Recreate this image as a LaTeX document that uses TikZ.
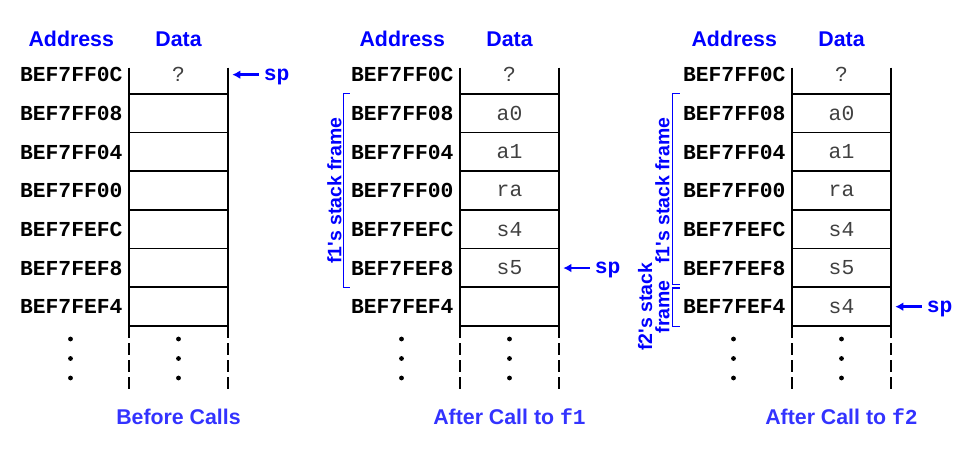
\documentclass[tikz,border=0pt]{standalone}
\usepackage{fontspec}
\setmainfont{Liberation Sans}
\setmonofont{Liberation Mono}
\usepackage{tikz}
\usetikzlibrary{arrows.meta,positioning,calc}
\definecolor{spblue}{RGB}{0,0,255}
\definecolor{capblue}{RGB}{51,51,255}
\definecolor{cellgray}{RGB}{64,64,64}
\tikzstyle{cell} = [rectangle, minimum width=74.25pt, minimum height=29pt, inner sep=0pt, text=cellgray, font=\fontsize{16}{18}\selectfont\ttfamily]
\tikzstyle{addr} = [inner sep=0pt, font=\fontsize{16}{18}\selectfont\ttfamily\bfseries]
\tikzstyle{header} = [inner sep=0pt, text=spblue, font=\fontsize{16}{18}\selectfont\bfseries]
\tikzstyle{caption} = [inner sep=0pt, text=capblue, font=\fontsize{16}{18}\selectfont\bfseries]
\tikzstyle{framelbl} = [inner sep=0pt, rotate=90, anchor=south, align=center, text=spblue, font=\fontsize{14.6}{13}\selectfont\bfseries]
\tikzstyle{splabel} = [inner sep=0pt, text height=12pt, text depth=3.5pt, text=spblue, font=\fontsize{16}{18}\selectfont\ttfamily\bfseries]
\tikzstyle{stackline} = [line width=1.2pt]
\tikzstyle{brace} = [line width=0.9pt, color=spblue]
\tikzstyle{sparrow} = [line width=2pt, -{Latex[length=6pt,width=6.5pt]}, color=spblue]

\begin{document}
\begin{tikzpicture}[x=0.75pt,y=-0.75pt]
\useasboundingbox (0,0) rectangle (963,452);

% Three stack snapshots
\foreach \p/\dx/\capt/\va/\vb/\vc/\vd/\ve/\vf/\vg in {
  1/0/{Before Calls}/?/{}/{}/{}/{}/{}/{},
  2/331/{After Call to {\ttfamily f1}}/?/a0/a1/ra/s4/s5/{},
  3/663/{After Call to {\ttfamily f2}}/?/a0/a1/ra/s4/s5/s4}{
\begin{scope}[xshift=\dx*0.75pt]
% cells and addresses
\foreach \r/\addr/\v in {1/BEF7FF0C/\va, 2/BEF7FF08/\vb, 3/BEF7FF04/\vc, 4/BEF7FF00/\vd,
                         5/BEF7FEFC/\ve, 6/BEF7FEF8/\vf, 7/BEF7FEF4/\vg}{
  \node[cell] (c\p-\r) at (178.5,{74.67+38.67*(\r-1)}) {\v};
  \node[addr, left=4.5pt of c\p-\r] (a\p-\r) {\addr};
}
% column lines
\draw[stackline] ([yshift=-9.5pt]c\p-1.north west) -- (c\p-7.south west);
\draw[stackline] ([yshift=-9.5pt]c\p-1.north east) -- (c\p-7.south east);
\foreach \r in {2,...,7} \draw[stackline] (c\p-\r.north west) -- (c\p-\r.north east);
\draw[stackline] (c\p-7.south west) -- (c\p-7.south east);
\draw[stackline, dash pattern=on 9pt off 3.75pt] (c\p-7.south west) -- ++(0,-48pt);
\draw[stackline, dash pattern=on 9pt off 3.75pt] (c\p-7.south east) -- ++(0,-48pt);
% dots
\foreach \yy in {339,358.5,378}{
  \fill (70.5,\yy) circle (1.8pt);
  \fill (178.5,\yy) circle (1.8pt);
}
% headers and caption
\node[header, above=15.5pt of a\p-1] (ahd\p) {Address};
\node[header, anchor=base] (dhd\p) at (ahd\p.base -| c\p-1) {Data};
\node[caption, below=62pt of c\p-7] (cap\p) {\capt};
\end{scope}
}

% Stack pointers
\node[splabel, right=26.5pt of c1-1] (sp1) {sp};
\node[splabel, right=26.5pt of c2-6] (sp2) {sp};
\node[splabel, right=26.5pt of c3-7] (sp3) {sp};
\draw[sparrow] ([xshift=-3.75pt]sp1.west) -- ([xshift=3pt]c1-1.east);
\draw[sparrow] ([xshift=-3.75pt]sp2.west) -- ([xshift=3pt]c2-6.east);
\draw[sparrow] ([xshift=-3.75pt]sp3.west) -- ([xshift=3pt]c3-7.east);

% Stack frames
\coordinate (f1top2) at (a2-2.west |- c2-2.north);
\coordinate (f1bot2) at (a2-6.west |- c2-6.south);
\draw[brace] ([xshift=-0.75pt]f1top2) -- ++(-4.5pt,0) |- ([xshift=-0.75pt]f1bot2);
\node[framelbl] (f1lbl2) at ($(f1top2)!0.5!(f1bot2)+(-6.75pt,0)$) {f1\textquotesingle s stack frame};

\coordinate (f1top3) at (a3-2.west |- c3-2.north);
\coordinate (f1bot3) at (a3-6.west |- c3-6.south);
\coordinate (f2top3) at (a3-7.west |- c3-7.north);
\coordinate (f2bot3) at (a3-7.west |- c3-7.south);
\draw[brace] ([xshift=-2.25pt]f1top3) -- ++(-5.25pt,0) |- ([shift={(-2.25pt,2.25pt)}]f1bot3);
\draw[brace] ([shift={(-2.25pt,-0.75pt)}]f2top3) -- ++(-5.25pt,0) |- ([xshift=-2.25pt]f2bot3);
\node[framelbl] (f1lbl3) at ($(f1top3)!0.5!(f1bot3)+(-9.75pt,0)$) {f1\textquotesingle s stack frame};
\node[framelbl] (f2lbl3) at ($(f2top3)!0.5!(f2bot3)+(-9.75pt,0)$) {f2\textquotesingle s stack\\frame};
\end{tikzpicture}
\end{document}
